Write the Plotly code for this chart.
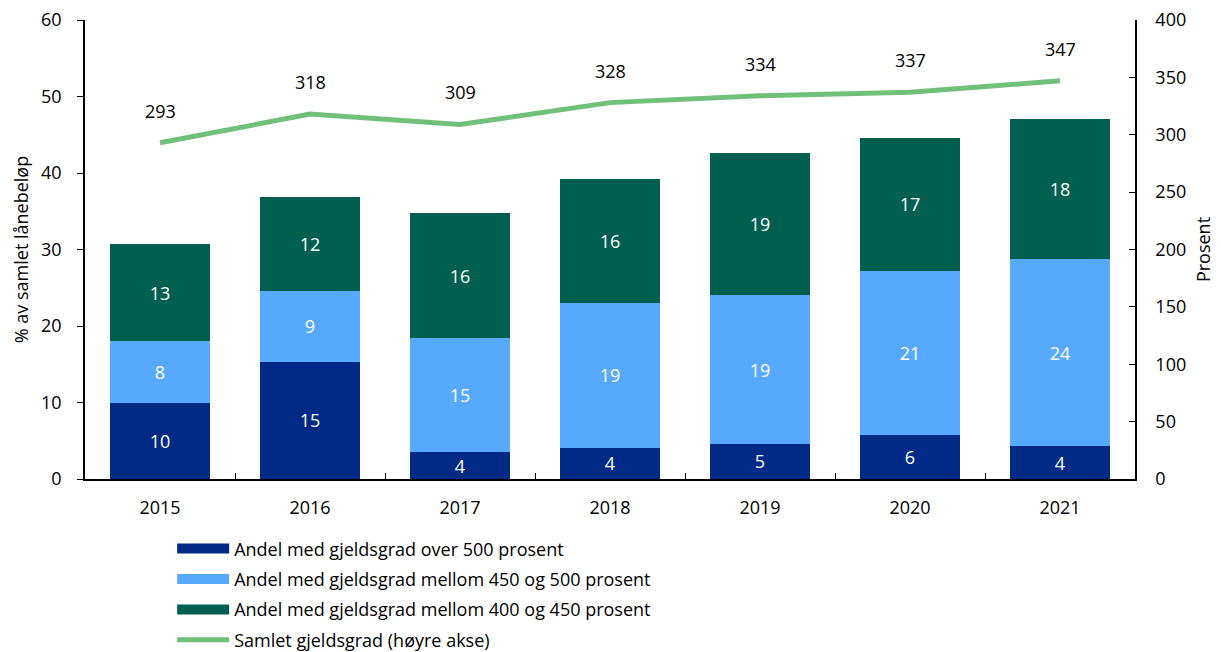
import plotly.graph_objects as go

# Data
years = ['2015', '2016', '2017', '2018', '2019', '2020', '2021']
over_500 = [9.9, 15.3, 3.5, 4.1, 4.6, 5.8, 4.3]
mellom_450_500 = [8.1, 9.3, 14.9, 18.9, 19.4, 21.4, 24.4]
mellom_400_450 = [12.7, 12.3, 16.4, 16.2, 18.6, 17.4, 18.4]
samlet = [293, 318, 309, 328, 334, 337, 347]

font_family = 'Open Sans, Noto Sans, sans-serif'
fs = 18

fig = go.Figure()

bar_series = [
    ('Andel med gjeldsgrad over 500 prosent', over_500, '#002A86'),
    ('Andel med gjeldsgrad mellom 450 og 500 prosent', mellom_450_500, '#56A9FF'),
    ('Andel med gjeldsgrad mellom 400 og 450 prosent', mellom_400_450, '#005F4F'),
]
for i, (name, vals, col) in enumerate(bar_series):
    fig.add_trace(go.Bar(
        x=years, y=vals, name=name, marker=dict(color=col, line=dict(width=0)),
        text=[f'{round(v):d}' for v in vals], textposition='inside',
        insidetextanchor='middle', textangle=0, showlegend=False,
        textfont=dict(color='white', size=fs, family=font_family),
    ))
    # wide rectangle legend entry
    fig.add_trace(go.Scatter(
        x=[None], y=[None], name=name, mode='lines', legendgroup=f'g{i}',
        line=dict(color=col, width=12),
    ))

fig.add_trace(go.Scatter(
    x=years, y=samlet, name='Samlet gjeldsgrad (høyre akse)', yaxis='y2',
    mode='lines', line=dict(color='#70C07A', width=5), legendgroup='g3',
))

# value labels above the line (x given as category index)
for i, v in enumerate(samlet):
    fig.add_annotation(x=i, y=v, xref='x', yref='y2', text=str(v),
                       showarrow=False, yshift=32,
                       font=dict(size=fs, color='black', family=font_family))

# page body has an 8px margin, so the figure is sized to fit inside the window
fig.update_layout(
    width=1213, height=644,
    barmode='stack', bargap=0.333,
    uniformtext=dict(minsize=fs, mode='show'),
    plot_bgcolor='white', paper_bgcolor='white',
    font=dict(family=font_family, size=fs, color='black'),
    margin=dict(l=77, r=86, t=12, b=173, autoexpand=False),
    showlegend=True,
    legend=dict(orientation='v', x=0.083, y=-0.112, xanchor='left', yanchor='top',
                traceorder='grouped', font=dict(size=fs), itemwidth=52,
                tracegroupgap=4, bgcolor='rgba(0,0,0,0)'),
    xaxis=dict(type='category', range=[-0.5, 6.5], showline=True, linecolor='black',
               linewidth=1.5, ticks='inside', tickson='boundaries', ticklen=6,
               tickcolor='black', showgrid=False, tickfont=dict(size=fs),
               ticklabelstandoff=12, automargin=False),
    yaxis=dict(range=[0, 60], dtick=10, showline=True, linecolor='black', linewidth=1.5,
               ticks='outside', ticklen=6, tickcolor='black', showgrid=False, zeroline=False,
               title=dict(text='% av samlet lånebeløp', font=dict(size=fs), standoff=8),
               tickfont=dict(size=fs), ticklabelstandoff=12, automargin=False,
               ticklabeloverflow='allow'),
    yaxis2=dict(range=[0, 400], dtick=50, overlaying='y', side='right', showline=True,
                linecolor='black', linewidth=1.5, ticks='inside', ticklen=6,
                tickcolor='black', showgrid=False, zeroline=False,
                title=dict(text='Prosent', font=dict(size=fs), standoff=12),
                tickfont=dict(size=fs), ticklabelstandoff=15, automargin=False,
                ticklabeloverflow='allow'),
)

fig.write_html('out.html')
